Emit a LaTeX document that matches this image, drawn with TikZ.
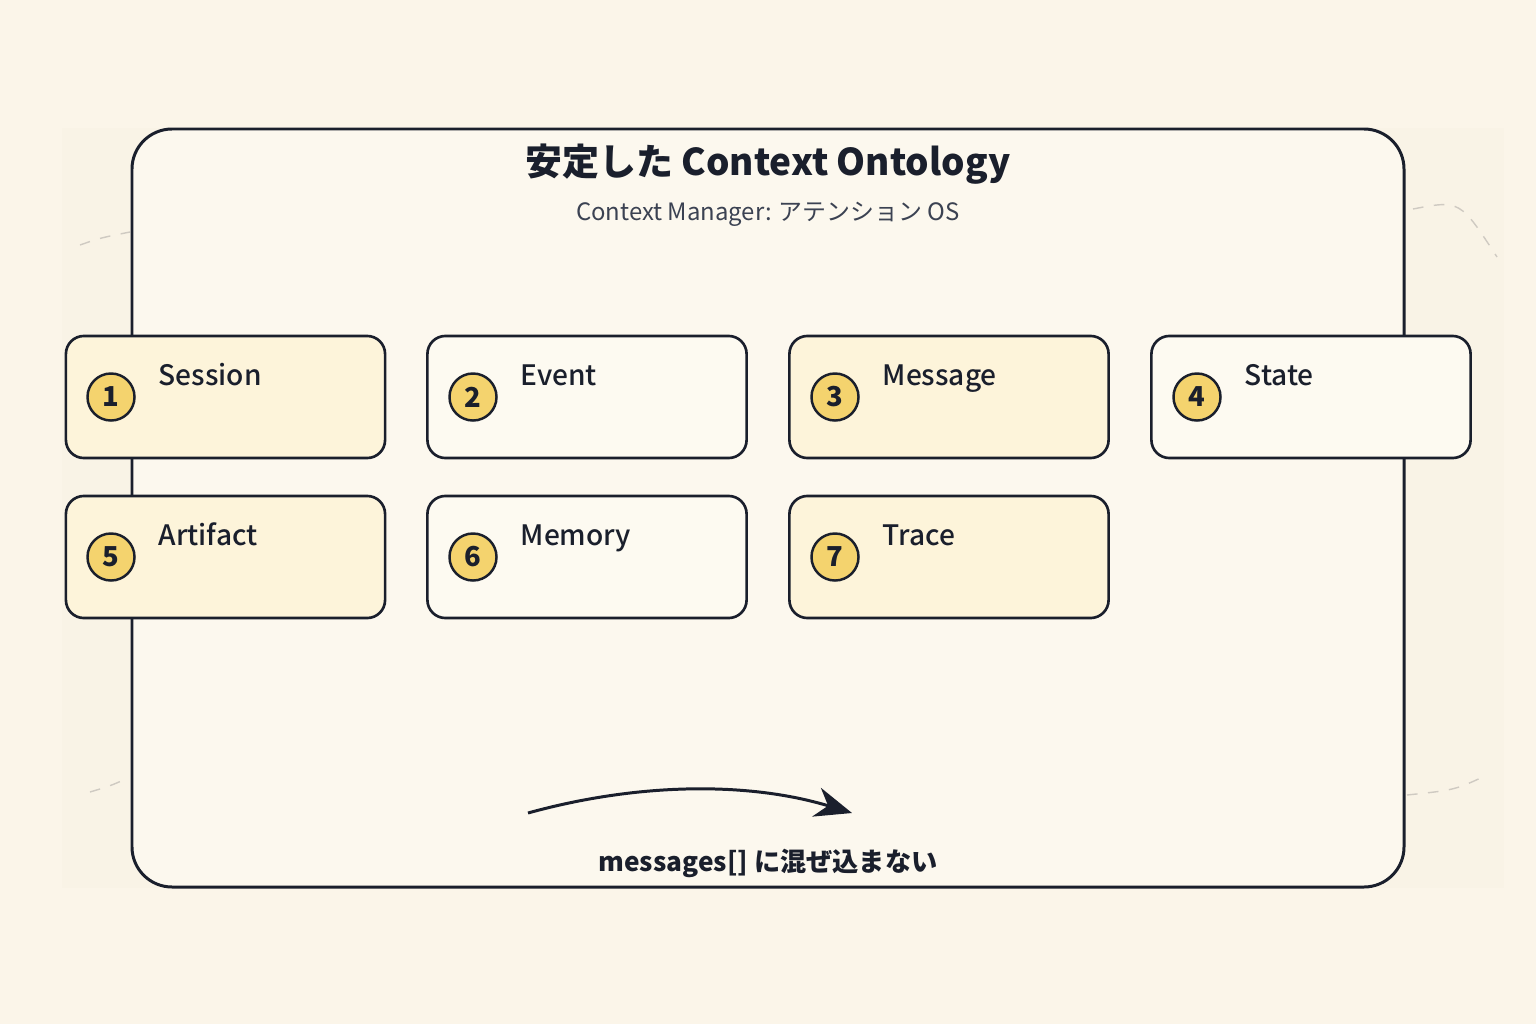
\documentclass[tikz,border=0pt]{standalone}
\usepackage{fontspec}
\setmainfont{Noto Sans CJK JP}
\newfontfamily\medfont{Noto Sans CJK JP}[UprightFont=* Medium]
\newfontfamily\heavyfont{Noto Sans CJK JP}[UprightFont=* Black]
\usepackage{tikz}
\usetikzlibrary{arrows.meta}
\tikzset{>=Stealth}
\usepackage{xcolor}
\definecolor{pagebg}{HTML}{FBF5E9}
\definecolor{panelbg}{HTML}{F9F3E6}
\definecolor{framebg}{HTML}{FCF8EE}
\definecolor{ink}{HTML}{1A1F2C}
\definecolor{subink}{HTML}{3B4252}
\definecolor{cardyel}{HTML}{FDF4DA}
\definecolor{cardwht}{HTML}{FDFAF1}
\definecolor{badgefill}{HTML}{F4D36E}
\definecolor{deco}{HTML}{CFCAC2}
\tikzset{
  card/.style={draw=ink, line width=0.75pt, rounded corners=0.18cm,
    minimum width=3.19cm, minimum height=1.22cm, inner sep=0pt},
  cardA/.style={card, fill=cardyel},
  cardB/.style={card, fill=cardwht},
  badge/.style={circle, draw=ink, line width=0.7pt, fill=badgefill,
    minimum size=0.47cm, inner sep=0pt, text=ink,
    font=\fontsize{7.8}{8}\selectfont\heavyfont},
  cardlabel/.style={anchor=base west, inner sep=0pt, text=ink,
    font=\fontsize{8}{9}\selectfont\medfont},
}
\begin{document}
\begin{tikzpicture}[x=0.01cm, y=-0.01cm]
            \useasboundingbox (0,0) rectangle (1536,1024);
            \fill[pagebg] (0,0) rectangle (1536,1024);
            \fill[panelbg] (62,128) rectangle (1504,888);
            % decorative dashed arcs
            \draw[deco, dashed, line width=0.4pt] (80,245) .. controls (100,238) .. (130,232);
            \draw[deco, dashed, line width=0.4pt] (1413,209) .. controls (1460,200) .. (1497,257);
            \draw[deco, dashed, line width=0.4pt] (90,792) .. controls (110,786) .. (128,778);
            \draw[deco, dashed, line width=0.4pt] (1407,795) .. controls (1455,790) .. (1487,775);
            % main frame
            \draw[ink, fill=framebg, line width=0.85pt, rounded corners=0.4cm] (132,129) rectangle (1404,887);
            % titles
            \node[text=ink, font=\fontsize{10.5}{13}\selectfont\bfseries] (title) at (768,164) {安定した Context Ontology};
            \node[text=subink, font=\fontsize{6.8}{8}\selectfont] (subtitle) at (768,214) {Context Manager: アテンション OS};
            % row 1
            \node[cardA] (c1) at (225.5,397) {};
            \node[badge] (b1) at (111,397) {1};
            \node[cardlabel] (l1) at (158,385) {Session};
            \node[cardB] (c2) at (587,397) {};
            \node[badge] (b2) at (473,397) {2};
            \node[cardlabel] (l2) at (520,385) {Event};
            \node[cardA] (c3) at (949,397) {};
            \node[badge] (b3) at (835,397) {3};
            \node[cardlabel] (l3) at (882,385) {Message};
            \node[cardB] (c4) at (1311,397) {};
            \node[badge] (b4) at (1197,397) {4};
            \node[cardlabel] (l4) at (1244,385) {State};
            % row 2
            \node[cardA] (c5) at (225.5,557) {};
            \node[badge] (b5) at (111,557) {5};
            \node[cardlabel] (l5) at (158,545) {Artifact};
            \node[cardB] (c6) at (587,557) {};
            \node[badge] (b6) at (473,557) {6};
            \node[cardlabel] (l6) at (520,545) {Memory};
            \node[cardA] (c7) at (949,557) {};
            \node[badge] (b7) at (835,557) {7};
            \node[cardlabel] (l7) at (882,545) {Trace};
            % arrow and note
            \coordinate (arrS) at (528,813);
            \coordinate (arrE) at (852,813);
            \draw[->, ink, line width=0.85pt, >={Stealth[length=0.37cm, width=0.3cm]}]
                (arrS) .. controls (640,782) and (750,782) .. (arrE);
            \node[text=ink, font=\fontsize{7.45}{9}\selectfont\bfseries] (note) at (768,863) {messages[] に混ぜ込まない};
        \end{tikzpicture}
\end{document}
